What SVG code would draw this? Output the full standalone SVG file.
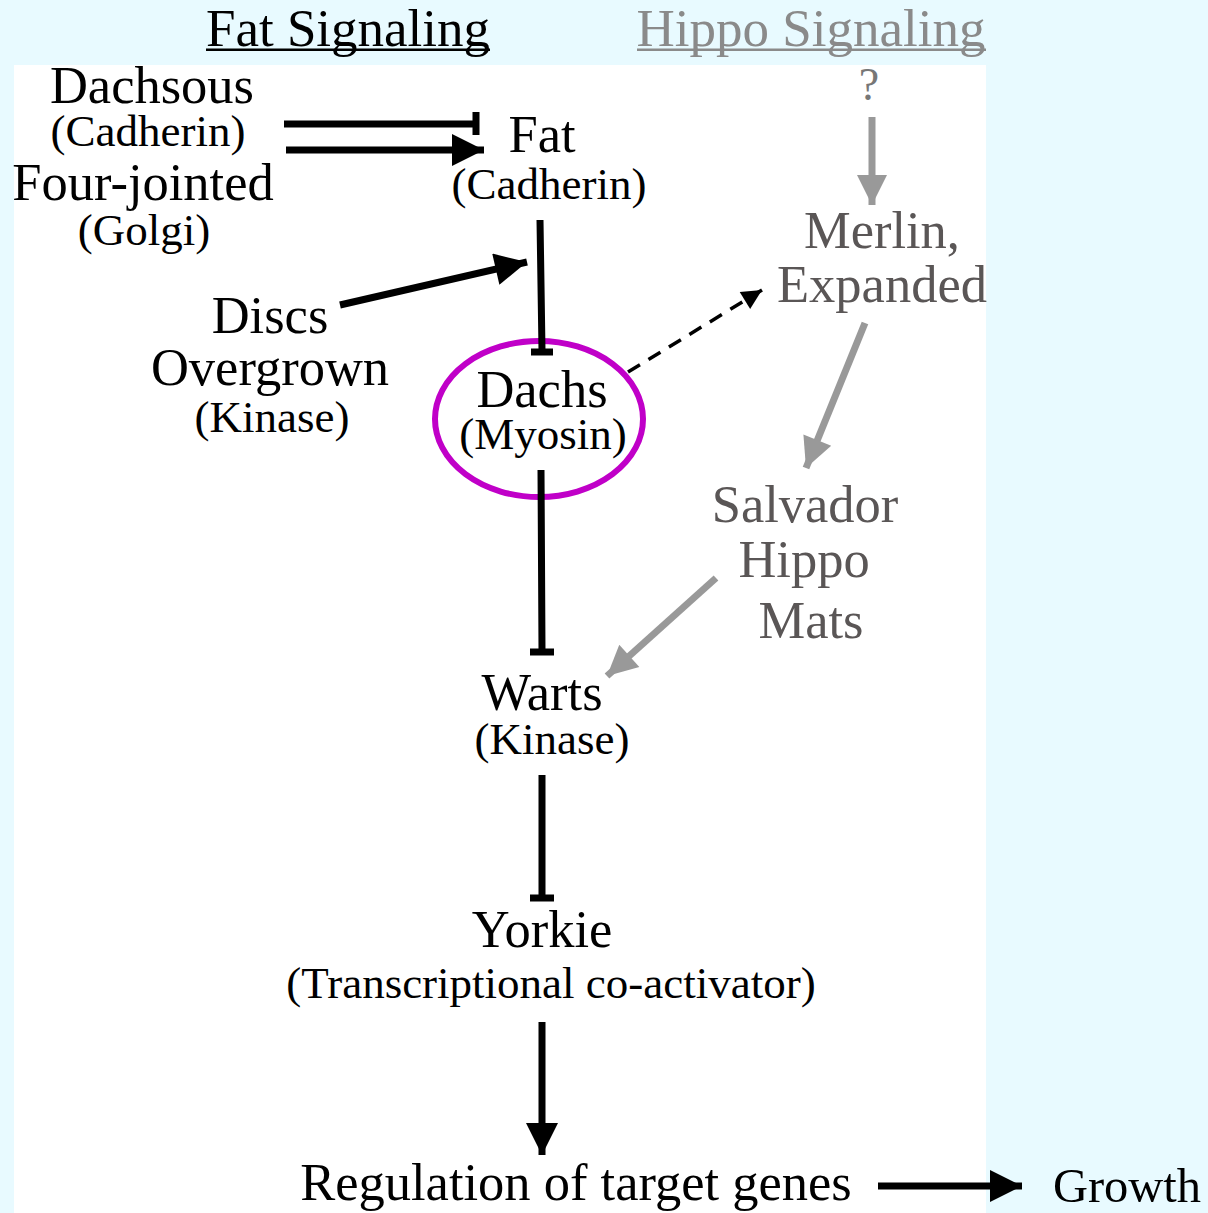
<svg xmlns="http://www.w3.org/2000/svg" width="1208" height="1213" viewBox="0 0 1208 1213">
<style>
text{font-family:"Liberation Serif","Times New Roman",serif;text-anchor:middle}
.b{font-size:52.5px;fill:#000}
.s{font-size:45px;fill:#000}
.gb{font-size:52.5px;fill:#5a5656}
.t{font-size:53px}
.k{stroke:#000;stroke-width:7;fill:none}
.g{stroke:#999;stroke-width:7;fill:none}
</style>
<defs>
<marker id="ah" viewBox="0 0 10 10" refX="10" refY="5" markerUnits="userSpaceOnUse" markerWidth="38" markerHeight="32" orient="auto"><path d="M0,0L10,5L0,10z" fill="#000"/></marker>
<marker id="ahg" viewBox="0 0 10 10" refX="10" refY="5" markerUnits="userSpaceOnUse" markerWidth="36" markerHeight="30" orient="auto"><path d="M0,0L10,5L0,10z" fill="#999"/></marker>
<marker id="ahs" viewBox="0 0 10 10" refX="10" refY="5" markerUnits="userSpaceOnUse" markerWidth="22" markerHeight="20" orient="auto"><path d="M0,0L10,5L0,10z" fill="#000"/></marker>
</defs>
<rect width="1208" height="1213" fill="#e8faff"/>
<rect x="14" y="65" width="972" height="1148" fill="#fff"/>

<g id="title-fat"><text class="t" x="348" y="46" fill="#000">Fat Signaling</text><rect x="206" y="48.5" width="284" height="2.5" fill="#000"/></g>
<g id="title-hippo"><text class="t" x="811" y="46" fill="#8a8a8a">Hippo Signaling</text><rect x="637" y="48.5" width="349" height="2.5" fill="#8a8a8a"/></g>

<g id="dachsous"><text class="b" x="152" y="103">Dachsous</text><text class="s" x="148" y="146">(Cadherin)</text></g>
<g id="four-jointed"><text class="b" x="143" y="200">Four-jointed</text><text class="s" x="144" y="245">(Golgi)</text></g>
<g id="fat"><text class="b" x="542" y="152">Fat</text><text class="s" x="549" y="199">(Cadherin)</text></g>
<g id="question"><text x="869" y="100" style="font-size:46px;fill:#777">?</text></g>
<g id="merlin"><text class="gb" x="882" y="248">Merlin,</text><text class="gb" x="882" y="302">Expanded</text></g>
<g id="discs"><text class="b" x="270" y="333">Discs</text><text class="b" x="270" y="385">Overgrown</text><text class="s" x="272" y="432">(Kinase)</text></g>
<g id="dachs"><ellipse cx="539" cy="419" rx="104" ry="78" fill="none" stroke="#c000c8" stroke-width="6"/><text class="b" x="542" y="407">Dachs</text><text class="s" x="543" y="449">(Myosin)</text></g>
<g id="salvador"><text class="gb" x="805" y="522">Salvador</text><text class="gb" x="804" y="577">Hippo</text><text class="gb" x="811" y="638">Mats</text></g>
<g id="warts"><text class="b" x="542" y="710">Warts</text><text class="s" x="552" y="754">(Kinase)</text></g>
<g id="yorkie"><text class="b" x="542" y="947">Yorkie</text><text class="s" x="551" y="998">(Transcriptional co-activator)</text></g>
<g id="regulation"><text class="b" x="576" y="1200">Regulation of target genes</text></g>
<g id="growth"><text class="b" x="1127" y="1202" style="font-size:48.5px">Growth</text></g>

<g id="connectors">
<path class="k" d="M284,124H476M476,112V135"/>
<path class="k" d="M286,150H484" marker-end="url(#ah)"/>
<path class="k" d="M540,220L542,350M531,352H553"/>
<path class="k" d="M340,305L527,262" marker-end="url(#ah)"/>
<path d="M628,372L762,290" stroke="#000" stroke-width="3.5" stroke-dasharray="14,10" fill="none" marker-end="url(#ahs)"/>
<path class="k" d="M541,470L542,650M530,652H554"/>
<path class="k" d="M542,775L542,896M530,898H554"/>
<path class="k" d="M542,1022V1155" marker-end="url(#ah)"/>
<path class="k" d="M878,1186H1022" marker-end="url(#ah)"/>
<path class="g" d="M872,117V205" marker-end="url(#ahg)"/>
<path class="g" d="M865,323L806,468" marker-end="url(#ahg)"/>
<path class="g" d="M716,578L607,676" marker-end="url(#ahg)"/>
</g>
</svg>
